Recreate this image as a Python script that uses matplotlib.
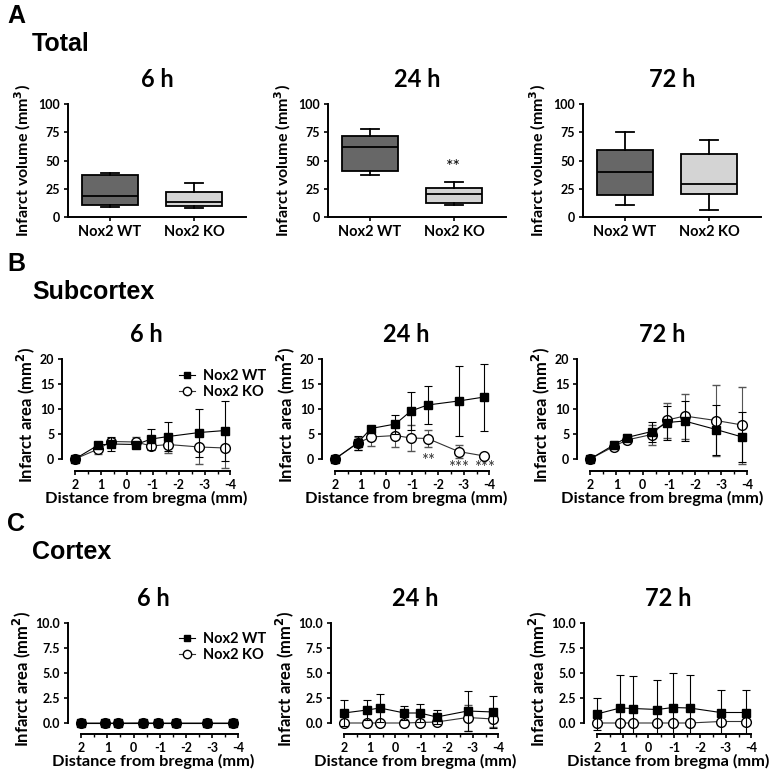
import numpy as np
import matplotlib
matplotlib.use("Agg")
import matplotlib.pyplot as plt
from matplotlib.ticker import FixedLocator
from matplotlib.lines import Line2D

plt.rcParams["font.family"] = ["Lato", "DejaVu Sans"]
plt.rcParams["axes.unicode_minus"] = False

# ---- data ----
times = ["6 h", "24 h", "72 h"]
groups = ["Nox2 WT", "Nox2 KO"]

# box stats (whislo, q1, med, q3, whishi) for total infarct volume
total_wt = [[9, 10.5, 19, 37.5, 38.5],
            [37, 41, 62, 72, 78],
            [11, 19.5, 39.5, 59, 75.5]]
total_ko = [[8, 10, 13, 22.5, 30],
            [11, 12.5, 20.5, 26, 31],
            [6.5, 20, 29, 56, 68.5]]

bregma = [2.0, 1.1, 0.6, -0.35, -0.95, -1.6, -2.8, -3.8]

sub_wt = [[0, 2.8, 3.0, 2.9, 4.0, 4.5, 5.3, 5.7],
          [0, 3.3, 6.1, 7.0, 9.6, 10.8, 11.6, 12.4],
          [0, 2.8, 4.3, 5.5, 7.3, 7.6, 5.9, 4.4]]
sub_wt_err = [[0, 0.3, 1.4, 0.5, 2.1, 2.9, 4.8, 6.0],
              [0, 1.4, 0.4, 1.9, 3.8, 3.8, 7.0, 6.7],
              [0, 0.8, 0.7, 2.0, 3.4, 4.0, 5.0, 5.0]]
sub_ko = [[0, 2.0, 3.5, 3.4, 2.6, 2.9, 2.4, 2.2],
          [0, 3.2, 4.4, 4.7, 4.2, 4.1, 1.5, 0.6],
          [0, 2.5, 3.8, 4.9, 7.8, 8.6, 7.7, 6.8]]
sub_ko_err = [[0, 1.0, 0.8, 1.0, 0.6, 1.6, 3.3, 4.0],
              [0, 1.3, 1.8, 2.3, 2.6, 1.7, 1.3, 0.2],
              [0, 0.7, 0.6, 2.0, 3.5, 4.5, 7.1, 7.7]]

cor_wt = [[0, 0, 0, 0, 0, 0, 0, 0],
          [1.0, 1.3, 1.5, 1.0, 1.0, 0.6, 1.2, 1.1],
          [0.9, 1.5, 1.45, 1.35, 1.55, 1.5, 1.05, 1.05]]
cor_wt_err = [[0, 0, 0, 0, 0, 0, 0, 0],
              [1.3, 1.0, 1.4, 0.7, 0.9, 0.7, 2.0, 1.6],
              [1.6, 3.3, 3.3, 3.0, 3.45, 3.3, 2.25, 2.3]]
cor_ko = [[0, 0, 0, 0.02, 0, 0, 0, 0],
          [0, 0, 0, 0, 0.05, 0.1, 0.55, 0.4],
          [0, 0, 0, 0, 0, 0, 0.15, 0.15]]
cor_ko_err = [[0, 0, 0, 0, 0, 0, 0, 0],
              [0, 0, 0, 0, 0, 0, 1.3, 0.8],
              [0, 0, 0, 0, 0, 0, 0, 0]]

# significance marks, subcortex 24 h
sig_x = [-1.6, -2.8, -3.8]
sig_txt = ["**", "***", "***"]
sig_y = [-1.4, -2.8, -2.8]

W, H = 772, 773
fig = plt.figure(figsize=(7.72, 7.73), dpi=100)


def px_axes(left, top, right, bottom):
    return fig.add_axes([left / W, 1 - bottom / H, (right - left) / W, (bottom - top) / H])


def style(ax):
    for s in ["top", "right"]:
        ax.spines[s].set_visible(False)
    for s in ["left", "bottom"]:
        ax.spines[s].set_linewidth(1.4)
    ax.tick_params(direction="out", width=1.2, length=3, labelsize=9, pad=2.5)
    for lab in ax.get_xticklabels() + ax.get_yticklabels():
        lab.set_fontweight("bold")


# panel letters / section titles
for lt, st, y in [("A", "Total", 16), ("B", "Subcortex", 264), ("C", "Cortex", 524)]:
    fig.text(7 / W, 1 - y / H, lt, fontsize=18, fontweight="bold", family="Liberation Sans", va="center")
    fig.text(32 / W, 1 - (y + 28) / H, st, fontsize=18, fontweight="bold", family="Liberation Sans", va="center")

# ---- row A: box plots ----
lefts_a = [68, 328, 583]
for i in range(3):
    ax = px_axes(lefts_a[i], 104, lefts_a[i] + 178, 217)
    stats = []
    for d, name in zip([total_wt[i], total_ko[i]], groups):
        stats.append({"whislo": d[0], "q1": d[1], "med": d[2], "q3": d[3], "whishi": d[4], "label": name})
    bp = ax.bxp(stats, positions=[1, 2], widths=0.66, patch_artist=True, showfliers=False,
                boxprops=dict(linewidth=1.3), whiskerprops=dict(linewidth=1.3),
                capprops=dict(linewidth=1.3), medianprops=dict(color="black", linewidth=1.3))
    for c in bp["caps"]:
        m = np.mean(c.get_xdata())
        c.set_xdata([m - 0.11, m + 0.11])
    bp["boxes"][0].set_facecolor("#676767")
    bp["boxes"][1].set_facecolor("#d4d4d4")
    ax.set_xlim(0.5, 2.62)
    ax.set_ylim(0, 100)
    ax.set_yticks([0, 25, 50, 75, 100])
    ax.set_ylabel("Infarct volume (mm$^\\mathbf{3}$)", fontsize=11.5, fontweight="bold")
    ax.set_title(times[i], fontsize=17, fontweight="bold", pad=12)
    style(ax)
    ax.tick_params(axis="x", labelsize=10.5)
    for lab in ax.get_xticklabels():
        lab.set_fontweight("bold")
    if i == 1:
        ax.text(2, 44, "**", ha="center", va="center", fontsize=13)


def line_panel(ax, wt, wt_err, ko, ko_err, ylim, yticks):
    ax.errorbar(bregma, ko, yerr=ko_err, color="#333333", marker="o", markersize=7,
                markerfacecolor="white", markeredgecolor="black", markeredgewidth=1.0,
                linewidth=0.8, elinewidth=0.8, ecolor="#555555", capsize=3, capthick=0.8, zorder=3)
    ax.errorbar(bregma, wt, yerr=wt_err, color="black", marker="s", markersize=5.5,
                linewidth=0.8, elinewidth=0.8, capsize=3, capthick=0.8, zorder=4)
    ax.set_xlim(2.5, -4.02)
    ax.set_ylim(*ylim)
    ax.spines["left"].set_bounds(0, yticks[-1])
    ax.spines["bottom"].set_bounds(2, -4)
    ax.set_yticks(yticks)
    ax.set_xticks([2, 1, 0, -1, -2, -3, -4])
    ax.xaxis.set_minor_locator(FixedLocator([1.5, 0.5, -0.5, -1.5, -2.5, -3.5]))
    ax.tick_params(axis="x", which="minor", length=2, width=1.0)
    ax.set_xlabel("Distance from bregma (mm)", fontsize=11.8, fontweight="bold", labelpad=0)
    ax.set_ylabel("Infarct area (mm$^\\mathbf{2}$)", fontsize=12, fontweight="bold", labelpad=2)
    style(ax)


def add_legend(ax, y):
    handles = [Line2D([], [], color="black", marker="s", markersize=5, linewidth=0.8),
               Line2D([], [], color="#333333", marker="o", markersize=6, markerfacecolor="white",
                      markeredgecolor="black", linewidth=0.8)]
    leg = ax.legend(handles, groups, loc="upper left", bbox_to_anchor=(172 / W, 1 - y / H),
                    bbox_transform=fig.transFigure, frameon=False, fontsize=10.5, handlelength=1.1,
                    handletextpad=0.5, labelspacing=0.15, borderpad=0)
    for t in leg.get_texts():
        t.set_fontweight("bold")


# ---- row B: subcortex ----
lb = [(62, 231), (322, 490), (577, 748)]
for i in range(3):
    ax = px_axes(lb[i][0], 359, lb[i][1], 471)
    line_panel(ax, sub_wt[i], sub_wt_err[i], sub_ko[i], sub_ko_err[i], (-2.4, 20), [0, 5, 10, 15, 20])
    ax.set_title(times[i], fontsize=17, fontweight="bold", pad=12)
    if i == 0:
        add_legend(ax, 362)
    if i == 1:
        for sx, sy, st in zip(sig_x, sig_y, sig_txt):
            ax.text(sx, sy, st, ha="center", va="baseline", fontsize=12, color="#333333", clip_on=False)

# ---- row C: cortex ----
lc = [(68, 239), (331, 499), (584, 752)]
for i in range(3):
    ax = px_axes(lc[i][0], 623, lc[i][1], 734)
    line_panel(ax, cor_wt[i], cor_wt_err[i], cor_ko[i], cor_ko_err[i], (-1.1, 10), [0, 2.5, 5, 7.5, 10])
    ax.set_yticklabels(["0.0", "2.5", "5.0", "7.5", "10.0"])
    for lab in ax.get_yticklabels():
        lab.set_fontweight("bold")
    ax.set_title(times[i], fontsize=17, fontweight="bold", pad=12)
    if i == 0:
        add_legend(ax, 625)

fig.savefig("out.png", dpi=100)
